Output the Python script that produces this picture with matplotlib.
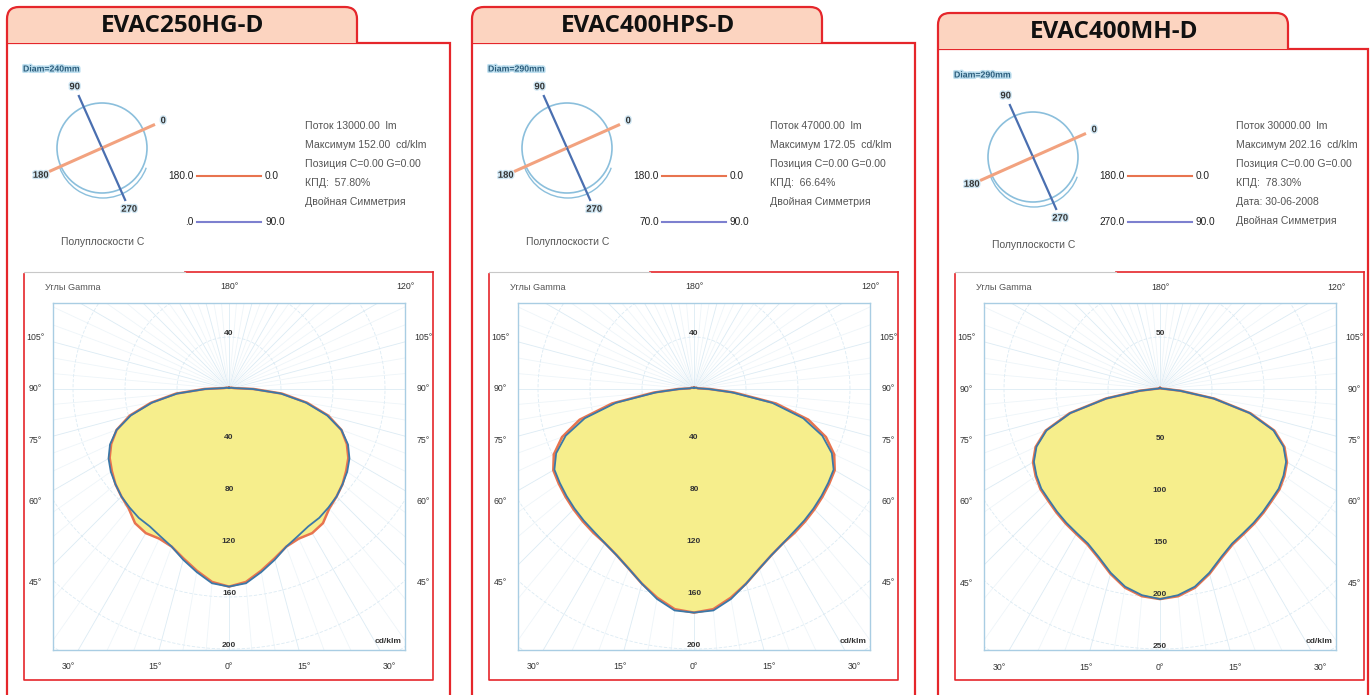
import numpy as np
import matplotlib.pyplot as plt
from matplotlib.patches import Rectangle, Circle, Arc, PathPatch
from matplotlib.path import Path
import matplotlib.patheffects as pe

plt.rcParams['font.family'] = ['Liberation Sans', 'DejaVu Sans']

titles = ['EVAC250HG-D', 'EVAC400HPS-D', 'EVAC400MH-D']
gamma = [0, 5, 10, 15, 20, 25, 30, 35, 40, 45, 50, 55, 60, 65, 70, 75, 80, 85, 90, 100, 120, 150, 180]
# cd/klm, plane C0-C180 (red) and plane C90-C270 (blue)
hg250_c0 = [152, 149, 142, 135, 129, 127, 128, 126, 120, 117, 114, 110, 106, 100, 92, 79, 61, 41, 19, 4, 2, 1, 1]
hg250_c90 = [152, 150, 143, 136, 129, 125, 122, 121, 119, 117, 114, 111, 107, 101, 92, 78, 60, 40, 18, 4, 2, 1, 1]
hps400_c0 = [172, 170, 163, 155, 147, 141, 137, 135, 133, 131, 129, 127, 125, 119, 108, 91, 64, 31, 12, 3, 2, 1, 1]
hps400_c90 = [172, 171, 164, 155, 147, 141, 137, 134, 132, 130, 128, 126, 124, 117, 105, 87, 61, 29, 11, 3, 2, 1, 1]
mh400_c0 = [202, 200, 194, 184, 173, 165, 161, 158, 155, 152, 150, 146, 141, 132, 117, 90, 53, 20, 6, 2, 1, 1, 1]
mh400_c90 = [202, 199, 193, 183, 172, 164, 160, 157, 154, 151, 149, 145, 140, 131, 116, 89, 52, 19, 5, 2, 1, 1, 1]
curves = [(hg250_c0, hg250_c90), (hps400_c0, hps400_c90), (mh400_c0, mh400_c90)]
ring_step = [40, 40, 50]
flux = ['13000.00', '47000.00', '30000.00']
i_max = ['152.00', '172.05', '202.16']
kpd = ['57.80%', '66.64%', '78.30%']
date = [None, None, '30-06-2008']
diam = ['Diam=240mm', 'Diam=290mm', 'Diam=290mm']
c_planes = [0, 90, 180, 270]
leg_red = [('180.0', '0.0'), ('180.0', '0.0'), ('180.0', '0.0')]
leg_blue = [('.0', '90.0'), ('70.0', '90.0'), ('270.0', '90.0')]

RED = '#e5262b'
PEACH = '#fcd4c0'
W, H = 1371, 695
fig = plt.figure(figsize=(13.71, 6.95), dpi=100)
bg = fig.add_axes([0, 0, 1, 1])
bg.set_xlim(0, W)
bg.set_ylim(H, 0)
bg.axis('off')


def px_axes(x0, y0, x1, y1):
    return fig.add_axes([x0 / W, 1 - y1 / H, (x1 - x0) / W, (y1 - y0) / H])


def tab(x0, x1, y0, y1, r=12):
    verts = [(x0, y1), (x0, y0 + r), (x0, y0), (x0 + r, y0), (x1 - r, y0),
             (x1, y0), (x1, y0 + r), (x1, y1)]
    codes = [Path.MOVETO, Path.LINETO, Path.CURVE3, Path.CURVE3, Path.LINETO,
             Path.CURVE3, Path.CURVE3, Path.LINETO]
    bg.add_patch(PathPatch(Path(verts, codes), facecolor=PEACH, edgecolor=RED, lw=1.6))


def edge_pos(gd):
    a = np.radians(gd)
    dx, dy = np.sin(a), -np.cos(a)
    ts = []
    if dx > 1e-9:
        ts.append(194 / dx)
    if dx < -1e-9:
        ts.append(-194 / dx)
    if dy < -1e-9:
        ts.append(278 / -dy)
    if dy > 1e-9:
        ts.append(102 / dy)
    t = min(ts)
    return t * dx, t * dy


def gamma_plot(ax, c0, c90, step):
    s = 52 / step  # px per cd/klm
    ax.set_xlim(-176 / s, 176 / s)
    ax.set_ylim(-261 / s, 86 / s)
    ax.set_xticks([])
    ax.set_yticks([])
    for sp in ax.spines.values():
        sp.set_color('#a9cde3')
        sp.set_linewidth(1)
    R = 420 / s
    for a in range(0, 360, 5):
        ar = np.radians(a)
        col = '#dcebf4' if a % 15 == 0 else '#eef5f9'
        ax.plot([0, R * np.sin(ar)], [0, -R * np.cos(ar)], color=col, lw=0.6, zorder=1)
    th = np.linspace(0, 2 * np.pi, 300)
    for k in range(1, 9):
        ax.plot(k * step * np.cos(th), k * step * np.sin(th), color='#dcebf4', lw=0.6,
                ls=(0, (4, 2)), zorder=1)
    g = np.radians(gamma)
    ang = np.concatenate([-g[::-1], g[1:]])
    for vals in (c0, c90):
        v = np.array(vals, dtype=float)
        vv = np.concatenate([v[::-1], v[1:]])
        ax.fill(vv * np.sin(ang), -vv * np.cos(ang), color='#f6ee8c', zorder=2, lw=0)
    for vals, col, lw in [(c0, '#e8744f', 1.8), (c90, '#3b78a8', 1.3)]:
        v = np.array(vals, dtype=float)
        vv = np.concatenate([v[::-1], v[1:]])
        ax.plot(vv * np.sin(ang), -vv * np.cos(ang), color=col, lw=lw, zorder=3,
                solid_joinstyle='round')
    # radial labels
    ax.text(0, step * 1.07, str(step), ha='center', va='center', fontsize=6,
            color='#333333', fontweight='bold', zorder=4)
    for k in range(1, 6):
        ax.text(0, -k * step + 3 / s, str(k * step), ha='center', va='center',
                fontsize=6, color='#333333', fontweight='bold', zorder=4)
    # gamma labels
    for gd in [-105, -90, -75, -60, -45, -30, -15, 0, 15, 30, 45, 60, 75, 90, 105, 120, 180]:
        px, py = edge_pos(gd)
        ax.text(px / s, py / s, f'{abs(gd)}°', ha='center', va='center', fontsize=6.3,
                color='#333333', clip_on=False)
    ax.text(0.99, 0.015, 'cd/klm', transform=ax.transAxes, ha='right', va='bottom',
            fontsize=6, color='#333333', fontweight='bold')


ox = [0, 465, 931]
oy = [0, 0, 6]
box_right = [450, 915, 1368]
for i in range(3):
    o, q = ox[i], oy[i]
    # frame and tab
    bg.add_patch(Rectangle((7 + o, 43 + q), box_right[i] - 7 - o, 700, fill=False,
                           edgecolor=RED, lw=1.6))
    tab(7 + o, 357 + o, 7 + q, 43 + q)
    bg.text(183 + o, 26 + q, titles[i], ha='center', va='center', fontsize=17.5,
            fontweight='bold', family='Open Sans', color='#111111')

    # C-plane mini diagram
    cx, cy = 102 + o, 148 + 1.5 * q
    sm = px_axes(cx - 80, cy - 80, cx + 80, cy + 80)
    sm.set_xlim(-80, 80)
    sm.set_ylim(-80, 80)
    sm.axis('off')
    sm.add_patch(Circle((0, 0), 45, fill=False, edgecolor='#8bbfdc', lw=1.2))
    sm.add_patch(Arc((1, -4), 92, 92, theta1=200, theta2=340, edgecolor='#8bbfdc', lw=1.0))
    for c in c_planes:
        a = np.radians(24 + c)
        col = '#f2a27f' if c in (0, 180) else '#4a6fb0'
        sm.plot([0, 58 * np.cos(a)], [0, 58 * np.sin(a)], color=col,
                lw=2.2 if c in (0, 180) else 1.6, solid_capstyle='butt')
        sm.text(67 * np.cos(a), 67 * np.sin(a), str(c), ha='center', va='center',
                fontsize=6.8, fontweight='bold', color='#333333',
                path_effects=[pe.withStroke(linewidth=2, foreground='#cfe6f3')])
    bg.text(23 + o, 69 + q, diam[i], ha='left', va='center', fontsize=6.3,
            fontweight='bold', color='#2b5d7c',
            path_effects=[pe.withStroke(linewidth=2.2, foreground='#bfe0f0')])
    bg.text(103 + o, 242 + q * 0.5, 'Полуплоскости С', ha='center', va='center',
            fontsize=7.5, color='#555555')

    # legend keys
    for (lt, rt), ly, col in [(leg_red[i], 176, '#e8744f'), (leg_blue[i], 222, '#7d80cf')]:
        bg.plot([197 + o, 261 + o], [ly, ly], color=col, lw=1.5)
        bg.text(194 + o, ly, lt, ha='right', va='center', fontsize=7.3, color='#222222')
        bg.text(265 + o, ly, rt, ha='left', va='center', fontsize=7.3, color='#222222')

    # info text
    lines = [f'Поток {flux[i]}  lm', f'Максимум {i_max[i]}  cd/klm',
             'Позиция C=0.00 G=0.00', f'КПД:  {kpd[i]}']
    if date[i]:
        lines.append(f'Дата: {date[i]}')
    lines.append('Двойная Симметрия')
    for k, t in enumerate(lines):
        bg.text(305 + o, 126 + 19 * k, t, ha='left', va='center', fontsize=7.6,
                color='#555555')

    # gamma diagram frame
    bg.plot([24 + o, 24 + o, 433 + o, 433 + o], [274, 680, 680, 272], color=RED, lw=1.2)
    bg.plot([185 + o, 433 + o], [272, 272], color=RED, lw=1.2)
    bg.plot([24 + o, 185 + o], [272, 272], color='#c8c8c8', lw=0.8)
    bg.text(45 + o, 287, 'Углы Gamma', ha='left', va='center', fontsize=6.6,
            color='#555555')

    ax = px_axes(53 + o, 303, 405 + o, 650)
    gamma_plot(ax, curves[i][0], curves[i][1], ring_step[i])

fig.savefig('out.png', dpi=100)
